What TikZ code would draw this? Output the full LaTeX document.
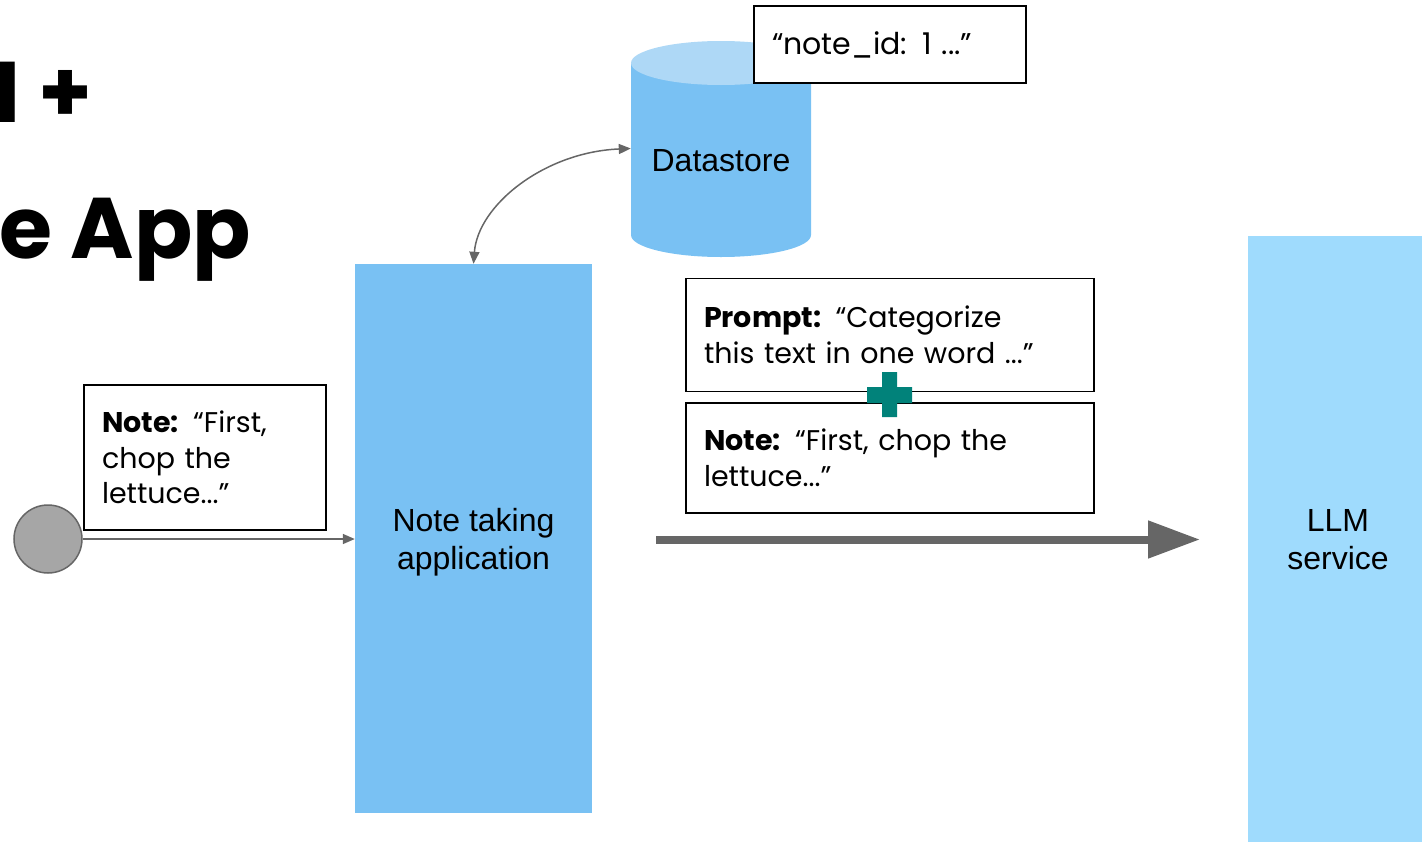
\documentclass[tikz,border=0pt]{standalone}
\usepackage{fontspec}
\setmainfont{Poppins}
\newfontfamily\arialfont{Liberation Sans}
\usetikzlibrary{positioning, arrows.meta}
\definecolor{appblue}{HTML}{79C1F3}
\definecolor{storetop}{HTML}{AED8F6}
\definecolor{llmblue}{HTML}{9FDBFD}
\definecolor{arrowgray}{HTML}{666666}
\definecolor{dotgray}{HTML}{A6A6A6}
\definecolor{plusteal}{HTML}{01827A}
\tikzset{
x=1pt, y=-1pt, % one unit is one pixel, counted from the top
textbox/.style={draw=black, line width=1.5pt, fill=white, inner xsep=18pt, inner ysep=0pt, align=left, font=\fontsize{28.5}{35.5}\selectfont}, % white boxes holding the texts
service/.style={inner sep=0pt, align=center, font=\arialfont\fontsize{32}{38}\selectfont}, % tall blue blocks
link/.style={draw=arrowgray, line width=1.5pt, >={Triangle[length=12pt,width=10pt]}}, % thin grey connectors
}

\begin{document}
\begin{tikzpicture}
  \useasboundingbox (0,0) rectangle (1422,841);
  \clip (0,0) rectangle (1422,841);

  % title, cut by the left edge
  \node[anchor=base east, inner sep=0pt, font=\fontsize{86}{100}\selectfont\bfseries] (title1) at (93,122) {LLM +};
  \node[anchor=base east, inner sep=0pt, font=\fontsize{86}{100}\selectfont\bfseries] (title2) at (251,258) {Note App};

  % datastore cylinder
  \fill[appblue] (631,63) -- (631,235) arc[start angle=180, end angle=0, x radius=90, y radius=22] -- (811,63) -- cycle;
  \fill[storetop] (721,63) ellipse[x radius=90, y radius=22];
  \node[minimum width=180pt, minimum height=217pt, label={[service, yshift=-12.5pt]center:Datastore}] (store) at (721,148.5) {};
  \node[textbox, text width=236pt, minimum height=77pt, font=\fontsize{30}{36}\selectfont] (noteid) at (890,44.5) {“note\_id: 1 ...”};

  \node[service, fill=appblue, text depth=0pt, minimum width=237pt, minimum height=549pt] (app) at (473.5,538.5) {Note taking\\application};
  \node[service, fill=llmblue, minimum width=180pt, minimum height=608pt] (llm) at (1338,540) {LLM\\service};

  \node[circle, fill=dotgray, draw=arrowgray, line width=1.5pt, minimum size=68pt, inner sep=0pt] (user) at (48,539) {};
  \node[textbox, text width=206pt, minimum height=145pt] (usernote) at (205,457.5) {\textbf{Note:} “First,\\chop the\\lettuce...”};

  \node[textbox, text width=372pt, minimum height=110pt] (note) at (890,458) {\textbf{Note:} “First, chop the\\lettuce...”};
  \node[textbox, text width=372pt, minimum height=113pt, above=10pt of note] (prompt) {\textbf{Prompt:} “Categorize\\this text in one word ...”};
  \fill[plusteal] (882,372) rectangle (897,417) (867,387) rectangle (912,403);

  \draw[link, ->] (user) -- (app.west |- user);
  \draw[link, <->] (app.north) .. controls +(4.5,-59) and +(-86,3.5) .. (store.west);

  \coordinate (sendstart) at (656,539.5);
  \coordinate (sendend) at (1200,539.5);
  \draw[arrowgray, line width=8pt, -{Triangle[length=52pt,width=36pt]}] (sendstart) -- (sendend);
\end{tikzpicture}
\end{document}
